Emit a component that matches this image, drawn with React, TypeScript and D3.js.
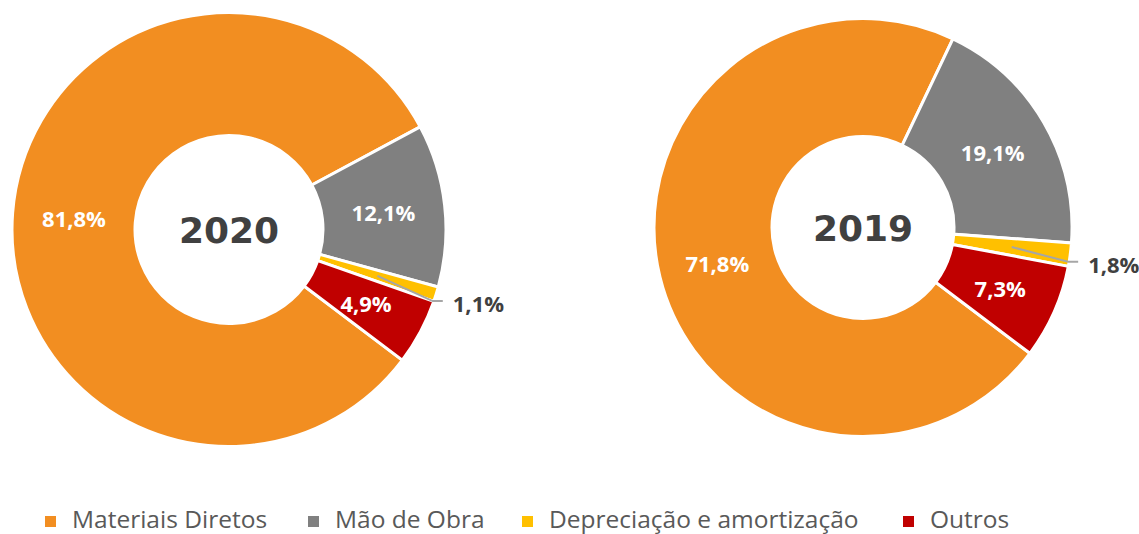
import React from "react";
import * as d3 from "d3";

const categories = ["Materiais Diretos", "Mão de Obra", "Depreciação e amortização", "Outros"];
const colors = ["#F28E21", "#808080", "#FFC000", "#C00000"];
const years = ["2020", "2019"];
const values2020 = [81.8, 12.1, 1.1, 4.9];
const values2019 = [71.8, 19.1, 1.8, 7.3];

const W = 1139;
const H = 534;
const locale = d3.formatLocale({ decimal: ",", thousands: ".", grouping: [3], currency: ["", ""] });
const fmt = locale.format(".1f");
const START = (127 * Math.PI) / 180;

type DonutProps = { cx: number; cy: number; R: number; r: number; values: number[]; year: string };

function Donut({ cx, cy, R, r, values, year }: DonutProps) {
  const pie = d3
    .pie<number>()
    .sort(null)
    .value((d) => d)
    .startAngle(START)
    .endAngle(START + 2 * Math.PI);
  const arcs = pie(values);
  const arc = d3.arc<d3.PieArcDatum<number>>().innerRadius(r).outerRadius(R);
  const mid = (R + r) / 2;
  const labelArc = d3.arc<d3.PieArcDatum<number>>().innerRadius(mid).outerRadius(mid);
  return (
    <g transform={`translate(${cx},${cy})`}>
      {arcs.map((a, i) => (
        <path key={i} d={arc(a) || ""} fill={colors[i]} stroke="#ffffff" strokeWidth={3} strokeLinejoin="miter" />
      ))}
      {arcs.map((a, i) => {
        const [x, y] = labelArc.centroid(a);
        const txt = fmt(a.data) + "%";
        if (a.data < 2) {
          const m = (a.startAngle + a.endAngle) / 2 + (2 * Math.PI) / 180;
          const ex = Math.sin(m) * (R - 1);
          const ey = -Math.cos(m) * (R - 1);
          const hx = ex + 10;
          return (
            <g key={"l" + i}>
              <polyline points={`${x},${y} ${ex},${ey} ${hx},${ey}`} fill="none" stroke="#A6A6A6" strokeWidth={2} />
              <text
                x={hx + 10}
                y={ey + 2}
                dominantBaseline="central"
                fill="#404040"
                fontFamily="'Open Sans', sans-serif"
                fontWeight={700}
                fontSize={22}
              >
                {txt}
              </text>
            </g>
          );
        }
        return (
          <text
            key={"l" + i}
            x={x}
            y={y}
            textAnchor="middle"
            dominantBaseline="central"
            fill="#ffffff"
            fontFamily="'Open Sans', sans-serif"
            fontWeight={700}
            fontSize={22}
          >
            {txt}
          </text>
        );
      })}
      <text
        x={0}
        y={1}
        textAnchor="middle"
        dominantBaseline="central"
        fill="#404040"
        fontFamily="'DejaVu Sans', Verdana, sans-serif"
        fontWeight={700}
        fontSize={36}
      >
        {year}
      </text>
    </g>
  );
}

const legendX = [45, 308, 522, 903];

export default function App() {
  return (
    <svg width={W} height={H} style={{ position: "absolute", left: 0, top: 0, background: "#ffffff" }}>
      <Donut cx={229} cy={229.5} R={217} r={94} values={values2020} year={years[0]} />
      <Donut cx={863} cy={227.5} R={209} r={91} values={values2019} year={years[1]} />
      <g>
        {categories.map((c, i) => (
          <g key={c} transform={`translate(${legendX[i]},516)`}>
            <rect x={0} y={0} width={11} height={11} fill={colors[i]} />
            <text
              x={27}
              y={12}
              fill="#595959"
              fontFamily="'Open Sans', sans-serif"
              fontSize={24.5}
            >
              {c}
            </text>
          </g>
        ))}
      </g>
    </svg>
  );
}
